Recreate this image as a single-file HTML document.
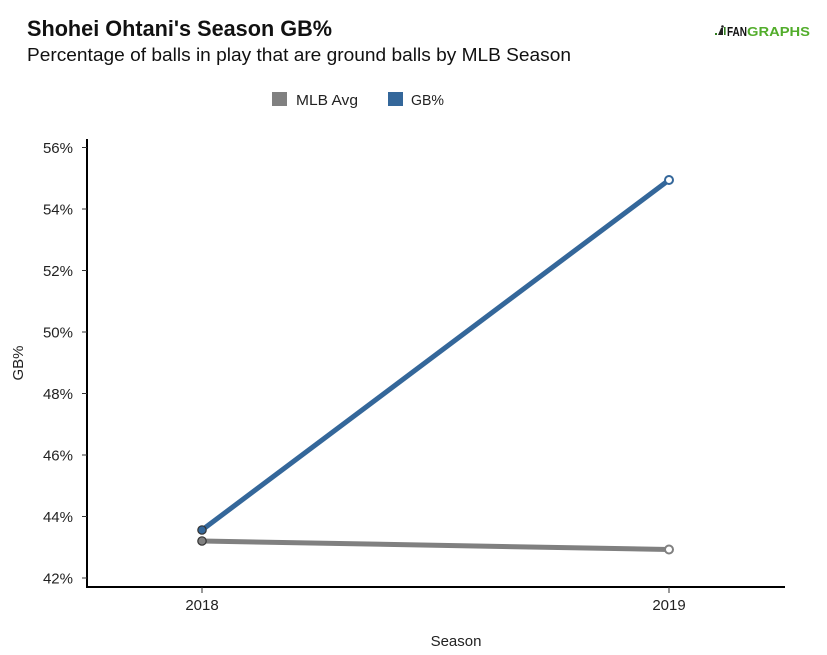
<!DOCTYPE html>
<html>
<head>
<meta charset="utf-8">
<style>
  html, body { margin: 0; padding: 0; background: #fff; }
  svg { display: block; }
  text { font-family: "Liberation Sans", "DejaVu Sans", sans-serif; }
</style>
</head>
<body>
<svg width="827" height="655" viewBox="0 0 827 655" xmlns="http://www.w3.org/2000/svg">
  <rect x="0" y="0" width="827" height="655" fill="#fff"/>

  <!-- Title -->
  <text x="27" y="36" font-size="22" font-weight="bold" fill="#111" textLength="305" lengthAdjust="spacingAndGlyphs">Shohei Ohtani's Season GB%</text>
  <text x="27" y="61" font-size="18.5" fill="#111" textLength="544" lengthAdjust="spacingAndGlyphs">Percentage of balls in play that are ground balls by MLB Season</text>

  <!-- Logo -->
  <g>
    <rect x="715" y="33" width="2" height="2" fill="#2e7d1e"/>
    <path d="M718 35 L721 28 L723 28 L723 35 Z" fill="#222"/>
    <circle cx="722.5" cy="26.5" r="1.3" fill="#222"/>
    <rect x="724" y="27" width="1.6" height="8" fill="#2e7d1e"/>
    <text x="727" y="36" font-size="12.5" font-weight="bold" fill="#111" textLength="20" lengthAdjust="spacingAndGlyphs">FAN</text>
    <text x="747" y="36" font-size="12.5" font-weight="bold" fill="#52ad2b" textLength="63" lengthAdjust="spacingAndGlyphs">GRAPHS</text>
  </g>

  <!-- Legend -->
  <rect x="272" y="92" width="15" height="14" fill="#808080"/>
  <text x="296" y="105" font-size="15" fill="#222" textLength="62" lengthAdjust="spacingAndGlyphs">MLB Avg</text>
  <rect x="388" y="92" width="15" height="14" fill="#34679a"/>
  <text x="411" y="105" font-size="15" fill="#222" textLength="33" lengthAdjust="spacingAndGlyphs">GB%</text>

  <!-- Y axis -->
  <line x1="87" y1="139" x2="87" y2="588" stroke="#000" stroke-width="2"/>
  <g stroke="#333" stroke-width="1">
    <line x1="82" y1="147.5" x2="87" y2="147.5"/>
    <line x1="82" y1="209" x2="87" y2="209"/>
    <line x1="82" y1="270.5" x2="87" y2="270.5"/>
    <line x1="82" y1="332" x2="87" y2="332"/>
    <line x1="82" y1="393.5" x2="87" y2="393.5"/>
    <line x1="82" y1="455" x2="87" y2="455"/>
    <line x1="82" y1="516.5" x2="87" y2="516.5"/>
    <line x1="82" y1="578" x2="87" y2="578"/>
  </g>
  <g font-size="15" fill="#222" text-anchor="end">
    <text x="73" y="153">56%</text>
    <text x="73" y="214.5">54%</text>
    <text x="73" y="276">52%</text>
    <text x="73" y="337.5">50%</text>
    <text x="73" y="399">48%</text>
    <text x="73" y="460.5">46%</text>
    <text x="73" y="522">44%</text>
    <text x="73" y="583.5">42%</text>
  </g>
  <text transform="translate(23,363) rotate(-90)" font-size="15" fill="#222" text-anchor="middle">GB%</text>

  <!-- X axis -->
  <line x1="86" y1="587" x2="785" y2="587" stroke="#000" stroke-width="2"/>
  <g stroke="#333" stroke-width="1">
    <line x1="202" y1="587" x2="202" y2="593"/>
    <line x1="669" y1="587" x2="669" y2="593"/>
  </g>
  <g font-size="15" fill="#222" text-anchor="middle">
    <text x="202" y="610">2018</text>
    <text x="669" y="610">2019</text>
  </g>
  <text x="456" y="646" font-size="15" fill="#222" text-anchor="middle">Season</text>

  <!-- Series -->
  <line x1="202" y1="541" x2="669" y2="549.5" stroke="#808080" stroke-width="5" stroke-linecap="round"/>
  <line x1="202" y1="530" x2="669" y2="180" stroke="#34679a" stroke-width="5" stroke-linecap="round"/>

  <circle cx="202" cy="541" r="4.2" fill="#808080" stroke="#333" stroke-width="1.2"/>
  <circle cx="669" cy="549.5" r="4" fill="#fff" stroke="#808080" stroke-width="2"/>
  <circle cx="202" cy="530" r="4.2" fill="#34679a" stroke="#333" stroke-width="1.2"/>
  <circle cx="669" cy="180" r="4" fill="#fff" stroke="#34679a" stroke-width="2"/>
</svg>
</body>
</html>
